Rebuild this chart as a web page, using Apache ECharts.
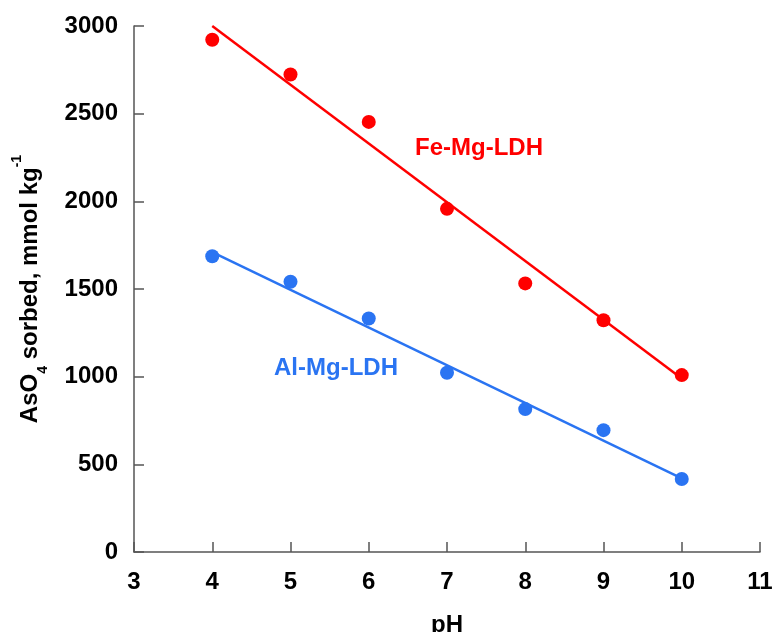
<!DOCTYPE html>
<html>
<head>
<meta charset="utf-8">
<script src="https://cdn.jsdelivr.net/npm/echarts@6/dist/echarts.min.js"></script>
<style>
html,body{margin:0;padding:0;background:#fff;}
#chart{width:781px;height:632px;}
</style>
</head>
<body>
<div id="chart"></div>
<script>
// pH values
var pH = [4, 5, 6, 7, 8, 9, 10];
// AsO4 sorbed, mmol/kg
var feMgLDH = [2922, 2723, 2453, 1957, 1532, 1322, 1009];
var alMgLDH = [1687, 1541, 1332, 1022, 815, 695, 416];
// fitted regression lines (endpoints)
var feFitX = [4, 10];
var feFitY = [3000, 990];
var alFitX = [4, 10];
var alFitY = [1710, 420];
var xTicks = [3, 4, 5, 6, 7, 8, 9, 10, 11];
var yTicks = [0, 500, 1000, 1500, 2000, 2500, 3000];

var RED = '#ff0000';
var BLUE = '#2a74f2';
var FONT = '"Liberation Sans", Arial, Helvetica, sans-serif';

function zip(xs, ys) { return xs.map(function (x, i) { return [x, ys[i]]; }); }

var chart = echarts.init(document.getElementById('chart'), null, {renderer: 'canvas'});
var axisCommon = {
  axisLine: {show: true, lineStyle: {color: '#555', width: 1.5}},
  axisTick: {show: true, inside: true, length: 10, lineStyle: {color: '#555', width: 1.5}},
  splitLine: {show: false},
  axisLabel: {color: '#000', fontSize: 24, fontWeight: 'bold', fontFamily: FONT,
              formatter: function (v) { return String(v); }}
};
var option = {
  backgroundColor: '#fff',
  animation: false,
  grid: {left: 134, right: 21, top: 26, bottom: 80, containLabel: false, outerBoundsMode: 'none'},
  xAxis: Object.assign({}, axisCommon, {
    type: 'value', min: xTicks[0], max: xTicks[xTicks.length - 1], interval: 1,
    name: 'pH', nameLocation: 'middle', nameGap: 61,
    nameTextStyle: {color: '#000', fontSize: 24, fontWeight: 'bold', fontFamily: FONT},
    axisLabel: Object.assign({}, axisCommon.axisLabel, {margin: 18})
  }),
  yAxis: Object.assign({}, axisCommon, {
    type: 'value', min: yTicks[0], max: yTicks[yTicks.length - 1], interval: 500,
    name: '{a|AsO}{sub|4}{a| sorbed, mmol kg}{sup|-1}',
    nameLocation: 'middle', nameGap: 84, nameRotate: 90,
    nameTextStyle: {
      color: '#000', fontFamily: FONT, fontWeight: 'bold', fontSize: 24, lineHeight: 58,
      rich: {
        a: {fontSize: 24, fontWeight: 'bold', fontFamily: FONT, color: '#000', verticalAlign: 'middle', lineHeight: 24},
        sub: {fontSize: 14, fontWeight: 'bold', fontFamily: FONT, color: '#000', verticalAlign: 'bottom', lineHeight: 12},
        sup: {fontSize: 14, fontWeight: 'bold', fontFamily: FONT, color: '#000', verticalAlign: 'top', lineHeight: 40}
      }
    },
    axisLabel: Object.assign({}, axisCommon.axisLabel, {margin: 16})
  }),
  series: [
    {type: 'line', data: zip(feFitX, feFitY), symbol: 'none', lineStyle: {color: RED, width: 2.5}, z: 2},
    {type: 'line', data: zip(alFitX, alFitY), symbol: 'none', lineStyle: {color: BLUE, width: 2.5}, z: 2},
    {type: 'scatter', data: zip(pH, feMgLDH), symbol: 'circle', symbolSize: 14, itemStyle: {color: RED, opacity: 1}, z: 3},
    {type: 'scatter', data: zip(pH, alMgLDH), symbol: 'circle', symbolSize: 14, itemStyle: {color: BLUE, opacity: 1}, z: 3}
  ],
  graphic: [
    {type: 'text', left: 415, top: 136, style: {text: 'Fe-Mg-LDH', fill: RED, font: 'bold 24px ' + FONT}},
    {type: 'text', left: 274, top: 356, style: {text: 'Al-Mg-LDH', fill: BLUE, font: 'bold 24px ' + FONT}}
  ]
};
chart.setOption(option);
</script>
</body>
</html>
